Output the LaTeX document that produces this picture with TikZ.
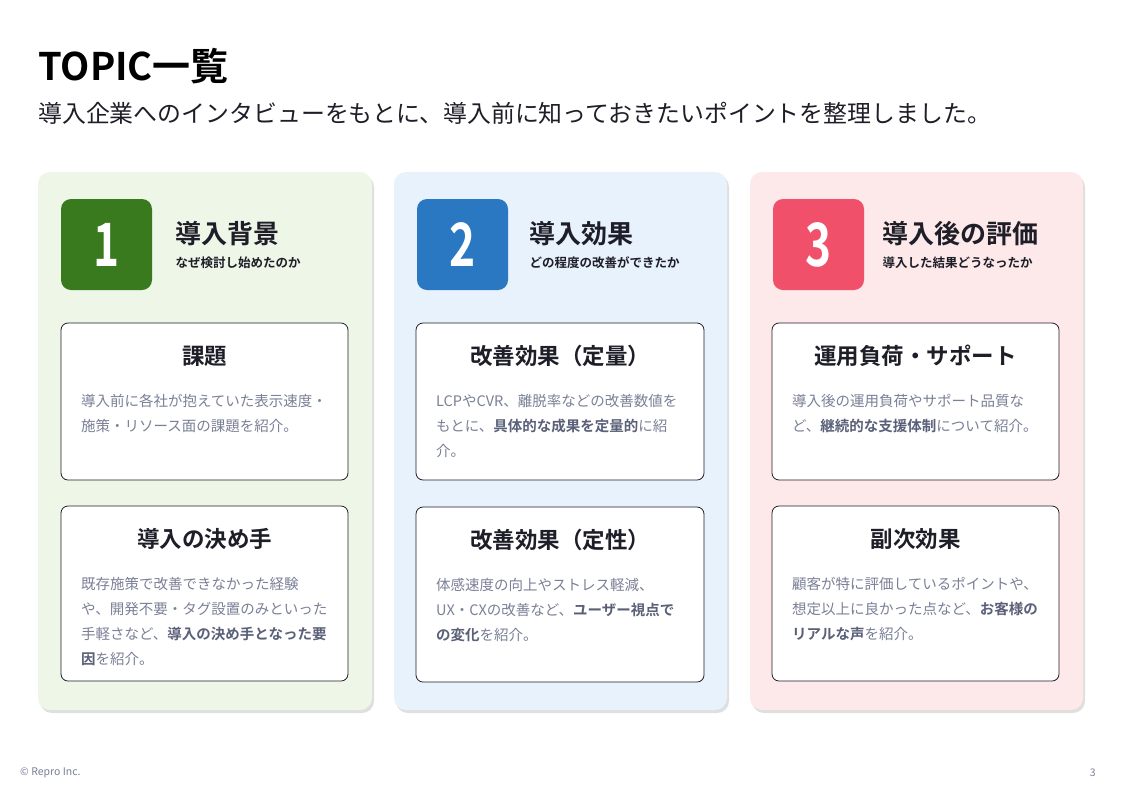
\documentclass[tikz,border=0pt]{standalone}
\usepackage{fontspec}
\setmainfont{Noto Sans CJK JP}[BoldFont={Noto Sans CJK JP Bold}]
\usetikzlibrary{shadows}
\definecolor{ink}{HTML}{1E1E28}
\definecolor{txt}{HTML}{7A8096}
\definecolor{txtb}{HTML}{5A6078}
\definecolor{pg}{HTML}{EEF6E8}
\definecolor{pb}{HTML}{E8F2FC}
\definecolor{pr}{HTML}{FDE8EA}
\definecolor{ng}{HTML}{3A7A1E}
\definecolor{nb}{HTML}{2A78C2}
\definecolor{nr}{HTML}{F0506A}
\tikzset{x=1pt,y=-1pt,
 panel/.style={rounded corners=12pt,draw=none,drop shadow={shadow xshift=2pt,shadow yshift=-3pt,opacity=0.25}},
 numbox/.style={rounded corners=10pt,draw=none},
 card/.style={rounded corners=7pt,draw=ink,line width=0.8pt,fill=white},
 num/.style={text=white,font=\bfseries\fontsize{52}{52}\selectfont,yscale=1.15,xscale=0.85},
 head/.style={anchor=west,text=ink,font=\bfseries\fontsize{26}{30}\selectfont},
 sub/.style={anchor=west,text=ink,font=\bfseries\fontsize{12.5}{14}\selectfont},
 ctitle/.style={text=ink,font=\bfseries\fontsize{22.5}{26}\selectfont},
 body/.style={anchor=north west,align=left,text=txt,inner sep=0pt,font=\fontsize{14.5}{25}\selectfont},
}
\newcommand{\bb}[1]{\textcolor{txtb}{\bfseries #1}}
\begin{document}
\begin{tikzpicture}
\useasboundingbox[fill=white] (0,0) rectangle (1121,793);
\node[anchor=west,inner sep=0pt,text=black,font=\bfseries\fontsize{38}{40}\selectfont] (t) at (38,66) {TOPIC一覧};
\node[anchor=west,inner sep=0pt,text=ink,font=\fontsize{23.9}{28}\selectfont] (st) at (38,113) {導入企業へのインタビューをもとに、導入前に知っておきたいポイントを整理しました。};
% panels
\fill[panel,fill=pg] (38,172) rectangle (372,710);
\fill[panel,fill=pb] (394,172) rectangle (727,710);
\fill[panel,fill=pr] (750,172) rectangle (1083,710);
% number boxes
\fill[numbox,fill=ng] (61,199) rectangle (152,290); \node[num] (n1) at (106.5,244.5) {1};
\fill[numbox,fill=nb] (417,199) rectangle (508,290); \node[num] (n2) at (462.5,244.5) {2};
\fill[numbox,fill=nr] (773,199) rectangle (864,290); \node[num] (n3) at (818.5,244.5) {3};
\node[head] (h1) at (172,234) {導入背景};
\node[sub] (s1) at (172,263) {なぜ検討し始めたのか};
\node[head] (h2) at (526,234) {導入効果};
\node[sub] (s2) at (526,263) {どの程度の改善ができたか};
\node[head] (h3) at (879,234) {導入後の評価};
\node[sub] (s3) at (879,263) {導入した結果どうなったか};
% cards col1
\draw[card] (61,323) rectangle (348,480);
\node[ctitle] (c11) at (204.5,356) {課題};
\node[body] (b11) at (81,394) {導入前に各社が抱えていた表示速度・\\施策・リソース面の課題を紹介。};
\draw[card] (61,506) rectangle (348,681);
\node[ctitle] (c12) at (204.5,539) {導入の決め手};
\node[body] (b12) at (81,577) {既存施策で改善できなかった経験\\や、開発不要・タグ設置のみといった\\手軽さなど、\bb{導入の決め手となった要}\\\bb{因}を紹介。};
% col2
\draw[card] (416,323) rectangle (704,480);
\node[ctitle] (c21) at (560,356) {改善効果（定量）};
\node[body] (b21) at (436,394) {LCPやCVR、離脱率などの改善数値を\\もとに、\bb{具体的な成果を定量的}に紹\\介。};
\draw[card] (416,507) rectangle (704,682);
\node[ctitle] (c22) at (560,540) {改善効果（定性）};
\node[body] (b22) at (436,578) {体感速度の向上やストレス軽減、\\UX・CXの改善など、\bb{ユーザー視点で}\\\bb{の変化}を紹介。};
% col3
\draw[card] (772,323) rectangle (1059,480);
\node[ctitle] (c31) at (915.5,356) {運用負荷・サポート};
\node[body] (b31) at (792,394) {導入後の運用負荷やサポート品質な\\ど、\bb{継続的な支援体制}について紹介。};
\draw[card] (772,506) rectangle (1059,681);
\node[ctitle] (c32) at (915.5,539) {副次効果};
\node[body] (b32) at (792,577) {顧客が特に評価しているポイントや、\\想定以上に良かった点など、\bb{お客様の}\\\bb{リアルな声}を紹介。};
\node[anchor=west,inner sep=0pt,text=txt,font=\fontsize{10.5}{12}\selectfont] (f) at (20,773) {© Repro Inc.};
\node[anchor=east,inner sep=0pt,text=txt,font=\fontsize{10.5}{12}\selectfont] (p) at (1096,773) {3};
\end{tikzpicture}
\end{document}
